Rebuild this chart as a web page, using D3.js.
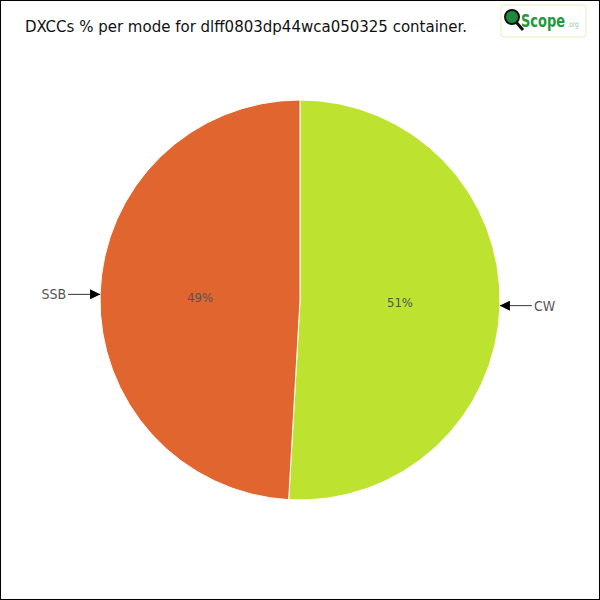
<!DOCTYPE html>
<html><head><meta charset="utf-8">
<script src="https://cdn.jsdelivr.net/npm/d3@7"></script>
<style>body{margin:0;background:#fff}svg{display:block}</style>
</head><body>
<script>
const modes = ["CW", "SSB"];
const values = [50.9, 49.1];
const labels = ["51%", "49%"];
const colors = ["#BDE22F", "#E0652F"];
const title = "DXCCs % per mode for dlff0803dp44wca050325 container.";

const W = 600, H = 600, cx = 300, cy = 300, R = 200;
const svg = d3.select("body").append("svg").attr("width", W).attr("height", H);
svg.append("rect").attr("x",0.5).attr("y",0.5).attr("width",W-1).attr("height",H-1)
  .attr("fill","#fff").attr("stroke","#000");

svg.append("text").attr("x",25).attr("y",32).text(title)
  .attr("font-family","DejaVu Sans Condensed, sans-serif").attr("font-size",16)
  .attr("textLength",442).attr("lengthAdjust","spacingAndGlyphs").attr("fill","#111");

// logo
const lg = svg.append("g");
lg.append("rect").attr("x",501).attr("y",5).attr("width",85).attr("height",32).attr("rx",3)
  .attr("fill","#fff").attr("stroke","#e6efc0");
lg.append("line").attr("x1",516).attr("y1",22).attr("x2",523).attr("y2",30).attr("stroke","#111").attr("stroke-width",3);
lg.append("circle").attr("cx",512).attr("cy",17).attr("r",7).attr("fill","#1e8a3a").attr("stroke","#111").attr("stroke-width",2);
const lt = lg.append("text").attr("transform","translate(521,27) scale(0.8,1)")
  .attr("font-family","DejaVu Sans Condensed, sans-serif");
lt.append("tspan").text("Scope").attr("font-weight","bold").attr("font-size",18).attr("fill","#22993a");
lt.append("tspan").text(".org").attr("dx",3).attr("font-size",8).attr("fill","#9c9");

const data = modes.map((m,i)=>({mode:m, value:values[i], label:labels[i], color:colors[i]}));
const pie = d3.pie().sort(null).value(d=>d.value);
const arcs = pie(data);
const arc = d3.arc().innerRadius(0).outerRadius(R);
const g = svg.append("g").attr("transform",`translate(${cx},${cy})`);
g.selectAll("path").data(arcs).join("path").attr("d",arc)
  .attr("fill",d=>d.data.color).attr("stroke","#fff").attr("stroke-width",1);
const inner = d3.arc().innerRadius(R/2).outerRadius(R/2);
g.selectAll("text.pct").data(arcs).join("text").attr("class","pct")
  .attr("transform",d=>`translate(${inner.centroid(d)})`)
  .attr("text-anchor","middle").attr("dy","0.35em")
  .attr("font-family","DejaVu Sans Condensed, sans-serif").attr("font-size",13).attr("fill","#555")
  .text(d=>d.data.label);

svg.append("defs").append("marker").attr("id","ah").attr("viewBox","0 0 10 10")
  .attr("refX",10).attr("refY",5).attr("markerWidth",10).attr("markerHeight",10).attr("orient","auto")
  .attr("markerUnits","userSpaceOnUse")
  .append("path").attr("d","M0,0L10,5L0,10Z").attr("fill","#000");

arcs.forEach(d=>{
  const a = (d.startAngle+d.endAngle)/2;
  const px = Math.sin(a)*R, py = -Math.cos(a)*R;
  const side = px>=0?1:-1;
  const lx = px + side*32;
  g.append("line").attr("x1",lx).attr("y1",py).attr("x2",px).attr("y2",py)
    .attr("stroke","#333").attr("stroke-width",1).attr("marker-end","url(#ah)");
  g.append("text").attr("x",lx + side*2).attr("y",py).attr("dy","0.35em")
    .attr("text-anchor",side>0?"start":"end")
    .attr("font-family","DejaVu Sans Condensed, sans-serif").attr("font-size",14).attr("fill","#555")
    .text(d.data.mode);
});
</script>
</body></html>
